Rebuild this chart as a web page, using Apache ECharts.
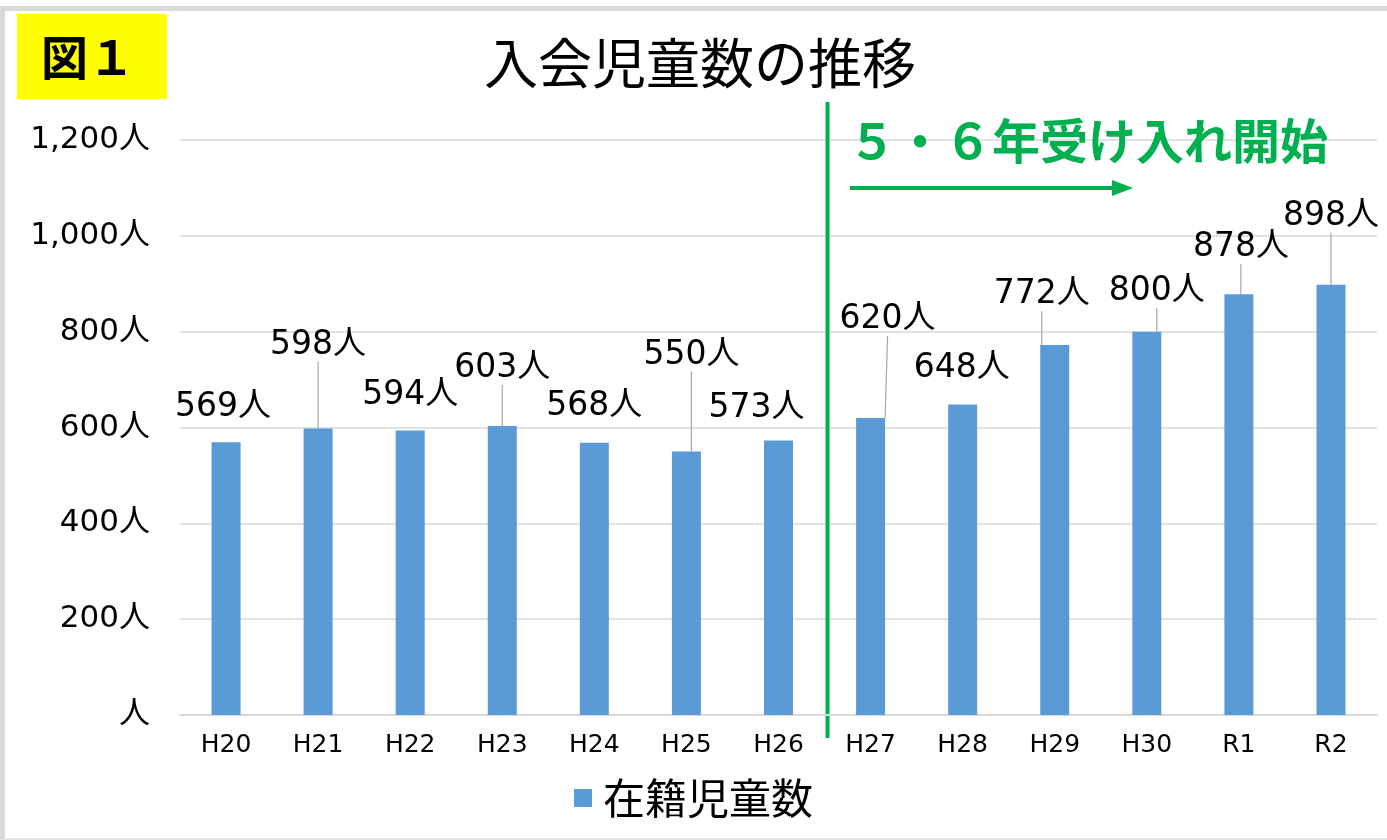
<!DOCTYPE html>
<html>
<head>
<meta charset="utf-8">
<script src="https://cdn.jsdelivr.net/npm/echarts@6/dist/echarts.min.js"></script>
<style>
html, body { margin: 0; padding: 0; background: #fff; }
#frame { position: absolute; left: 0; top: 6px; width: 1400px; height: 834px; box-sizing: border-box;
  border-top: 5px solid #d9d9d9; border-left: 5px solid #d9d9d9; border-bottom: 2px solid #e3e3e3; }
#chart { position: absolute; left: 0; top: 0; width: 1387px; height: 840px; }
</style>
</head>
<body>
<div id="frame"></div>
<div id="chart"></div>
<script>
// 年度
const categories = ['H20', 'H21', 'H22', 'H23', 'H24', 'H25', 'H26', 'H27', 'H28', 'H29', 'H30', 'R1', 'R2'];
// 在籍児童数
const memberCounts = [569, 598, 594, 603, 568, 550, 573, 620, 648, 772, 800, 878, 898];
// y軸の目盛
const yMin = 0, yMax = 1200, yStep = 200;

// ラベルのずらし量 [dx, dy] と引き出し線
const labelShift = [[-3, -13], [0, -62], [0, -13], [0, -36], [0, -15], [5, -75], [-22, -11],
                    [17, -77], [-1, -15], [-13, -29], [10, -19], [2, -25], [0, -47]];
const showGuide = [false, true, false, true, false, true, false, true, false, true, true, true, true];

const numFont = '"DejaVu Sans", "Noto Sans CJK JP", sans-serif';
const jpFont = '"Noto Sans CJK JP", sans-serif';
const green = '#00B050';

const chart = echarts.init(document.getElementById('chart'));

const option = {
    animation: false,
    grid: { left: 180, right: 10, top: 140, bottom: 125 },
    xAxis: {
        type: 'category',
        data: categories,
        axisLine: { lineStyle: { color: '#d9d9d9', width: 2 } },
        axisTick: { show: false },
        axisLabel: { color: '#000', fontSize: 25, fontFamily: numFont, margin: 18 }
    },
    yAxis: {
        type: 'value',
        min: yMin,
        max: yMax,
        interval: yStep,
        axisLine: { show: false },
        axisTick: { show: false },
        splitLine: { lineStyle: { color: '#d9d9d9', width: 1.5 } },
        axisLabel: {
            color: '#000', fontSize: 31, fontFamily: numFont, margin: 30,
            formatter: v => v === 0 ? '人' : v.toLocaleString('en-US') + '人'
        }
    },
    legend: {
        bottom: 16,
        left: 'center',
        icon: 'rect',
        itemWidth: 18,
        itemHeight: 18,
        itemGap: 10,
        textStyle: { color: '#000', fontSize: 42, fontFamily: jpFont, padding: [0, 0, 0, 6] }
    },
    series: [{
        name: '在籍児童数',
        type: 'bar',
        barWidth: 29,
        itemStyle: { color: '#5B9BD5' },
        data: memberCounts.map((v, i) => ({
            value: v,
            labelLine: { show: showGuide[i] }
        })),
        label: {
            show: true,
            position: 'top',
            distance: 5,
            color: '#000',
            fontSize: 33,
            fontFamily: numFont,
            formatter: p => p.value + '人'
        },
        labelLine: { show: true, lineStyle: { color: '#a6a6a6', width: 1.2 } },
        labelLayout: p => ({ dx: labelShift[p.dataIndex][0], dy: labelShift[p.dataIndex][1] })
    }]
};
chart.setOption(option);

// 5・6年受け入れ開始の区切り線（H26とH27の間）
const x26 = chart.convertToPixel({ xAxisIndex: 0 }, 'H26');
const x27 = chart.convertToPixel({ xAxisIndex: 0 }, 'H27');
const splitX = (x26 + x27) / 2 + 3;

chart.setOption({
    graphic: [
        { type: 'rect', shape: { x: 17, y: 14, width: 150, height: 85 }, style: { fill: '#ffff00' } },
        { type: 'text', x: 88, y: 57, style: { text: '図１', fill: '#000', font: 'bold 47px "Noto Sans CJK JP"', textAlign: 'center', textVerticalAlign: 'middle' } },
        { type: 'text', x: 700, y: 63, style: { text: '入会児童数の推移', fill: '#000', font: '400 54px "Noto Sans CJK JP"', textAlign: 'center', textVerticalAlign: 'middle' } },
        { type: 'line', shape: { x1: splitX, y1: 102, x2: splitX, y2: 738 }, style: { stroke: green, lineWidth: 4 } },
        { type: 'text', x: 848, y: 141, style: { text: '５・６年受け入れ開始', fill: green, font: 'bold 48px "Noto Sans CJK JP"', textAlign: 'left', textVerticalAlign: 'middle' } },
        { type: 'line', shape: { x1: 850, y1: 188, x2: 1115, y2: 188 }, style: { stroke: green, lineWidth: 4 } },
        { type: 'polygon', shape: { points: [[1112, 180], [1133, 188], [1112, 196]] }, style: { fill: green } }
    ]
});
</script>
</body>
</html>
